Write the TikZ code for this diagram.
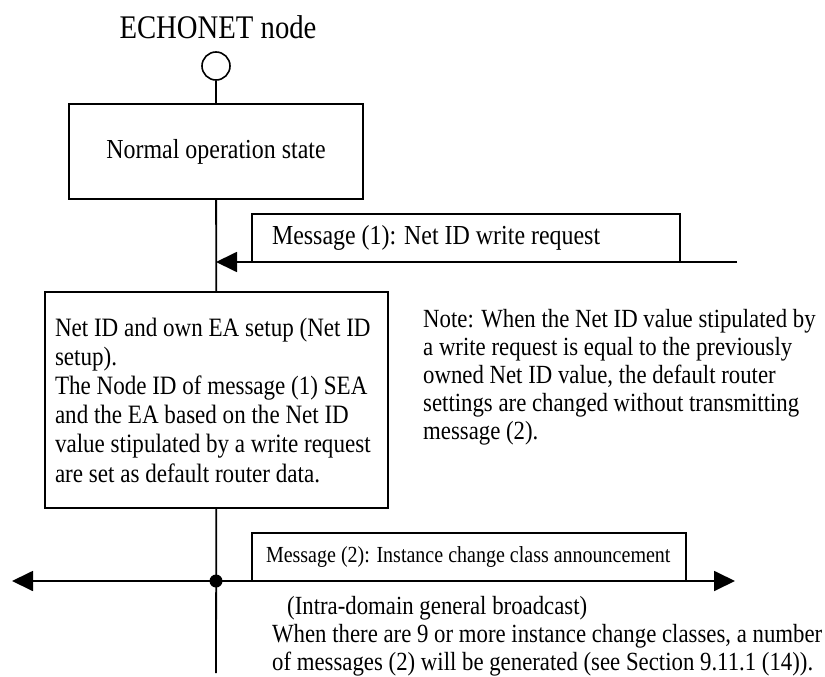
\documentclass[tikz,border=0pt]{standalone}
\usepackage{fontspec}
\setmainfont{Liberation Serif}[FakeStretch=0.87]
\usetikzlibrary{arrows.meta,positioning}
\tikzset{
  wire/.style      = {line width=1.8pt},
  msgline/.style   = {line width=1.8pt, -{Triangle[length=21pt,width=20pt]}},
  bcastline/.style = {line width=1.8pt,
                      {Triangle[length=21pt,width=20pt]}-{Triangle[length=21pt,width=20pt]}},
  term/.style      = {circle, draw, line width=1.6pt, fill=white,
                      inner sep=0pt, minimum size=28pt},
  node dot/.style  = {circle, fill=black, inner sep=0pt, minimum size=13pt},
  statebox/.style  = {draw, line width=1.8pt, font=\fontsize{27.5}{29}\selectfont},
  msgbox/.style    = {draw, line width=1.8pt, inner ysep=0pt},
  annot/.style     = {font=\fontsize{26.2}{28}\selectfont, align=left, inner sep=0pt},
}

\begin{document}
\begin{tikzpicture}[x=1pt,y=-1pt]
  \useasboundingbox (0,0) rectangle (825,677);

  % node and its states
  \node[font=\fontsize{33}{36}\selectfont] (title) at (218,27) {ECHONET node};
  \node[term] (start) at (216,66) {};
  \node[statebox, minimum width=294pt, minimum height=95pt] (normal) at (216,151.5)
    {Normal operation state};
  \node[statebox, font=\fontsize{26.5}{29.2}\selectfont, align=left,
        inner xsep=10pt, minimum height=216pt] (setup) at (216.5,400)
    {\makebox[323pt][l]{Net ID and own EA setup (Net ID}\\
     setup).\\
     The Node ID of message (1) SEA\\
     and the EA based on the Net ID\\
     value stipulated by a write request\\
     are set as default router data.};
  \coordinate (vend) at (216,673);
  \draw[wire] (start) -- (normal);
  \draw[wire] (normal) -- (setup);
  \draw[wire] (setup) -- (vend);

  % message (1)
  \node[msgbox, font=\fontsize{27.5}{29}\selectfont, inner xsep=20pt,
        minimum height=48pt] (msgA) at (466,238)
    {\makebox[388pt][l]{Message (1): Net ID write request}};
  \coordinate (msgAfrom) at (737,262);
  \draw[msgline] (msgAfrom) -- (msgAfrom -| normal);

  % note
  \node[annot, anchor=north west] (note) at (423,309)
    {Note: When the Net ID value stipulated by\\
     a write request is equal to the previously\\
     owned Net ID value, the default router\\
     settings are changed without transmitting\\
     message (2).};

  % message (2), broadcast
  \node[msgbox, font=\fontsize{23}{25}\selectfont, inner xsep=14pt,
        minimum height=48pt] (msgB) at (469,557)
    {\makebox[406pt][l]{Message (2): Instance change class announcement}};
  \coordinate (bcastL) at (12,581);
  \coordinate (bcastR) at (735,581);
  \draw[bcastline] (bcastL) -- (bcastR);
  \node[node dot] (hub) at (216,581) {};
  \node[annot, anchor=north west] (bcastnote) at (272,596.5)
    {\hspace*{15pt}(Intra-domain general broadcast)\\
     When there are 9 or more instance change classes, a number\\
     of messages (2) will be generated (see Section 9.11.1 (14)).};
\end{tikzpicture}
\end{document}
